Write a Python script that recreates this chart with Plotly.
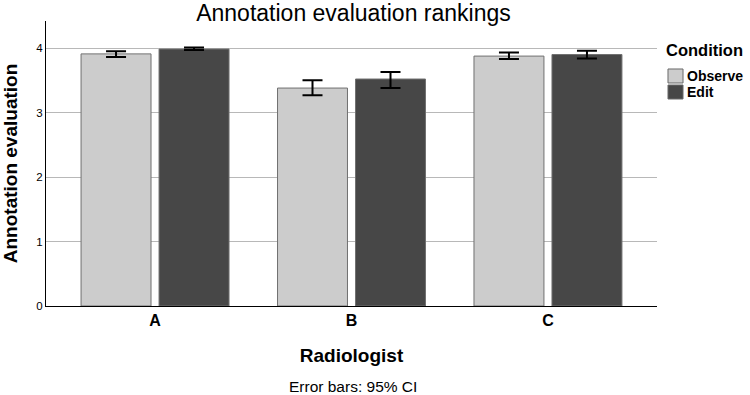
import plotly.graph_objects as go

categories = ["A", "B", "C"]
observe = [3.91, 3.38, 3.876]
observe_lo = [3.86, 3.27, 3.83]
observe_hi = [3.95, 3.50, 3.93]
edit = [3.985, 3.52, 3.90]
edit_lo = [3.97, 3.38, 3.84]
edit_hi = [4.01, 3.63, 3.96]
series_names = ["Observe", "Edit"]
series_colors = ["#cccccc", "#474747"]

def err(v, lo, hi):
    return dict(type="data", symmetric=False,
                array=[h - x for x, h in zip(v, hi)],
                arrayminus=[x - l for x, l in zip(v, lo)],
                color="black", thickness=2, width=10)

fig = go.Figure()
fig.add_trace(go.Bar(name=series_names[0], x=categories, y=observe, showlegend=False,
                     marker=dict(color=series_colors[0], line=dict(color="#707070", width=1)),
                     error_y=err(observe, observe_lo, observe_hi)))
fig.add_trace(go.Bar(name=series_names[1], x=categories, y=edit, showlegend=False,
                     marker=dict(color=series_colors[1], line=dict(color="#707070", width=1)),
                     error_y=err(edit, edit_lo, edit_hi)))

font = "Liberation Sans, Arial, sans-serif"

# manual legend (paper coords)
shapes = []
annotations = [
    dict(text="Error bars: 95% CI", xref="paper", yref="paper",
         x=0.502, y=-0.284, yanchor="middle", xanchor="center",
         showarrow=False, font=dict(size=15.5)),
    dict(text="<b>Condition</b>", xref="paper", yref="paper", x=1.011, y=0.898,
         xanchor="left", yanchor="middle", showarrow=False, font=dict(size=16.5)),
]
sw_y = [(0.7825, 0.8316), (0.7263, 0.7754)]
txt_y = [0.807, 0.751]
for name, col, (y0, y1), ty in zip(series_names, series_colors, sw_y, txt_y):
    shapes.append(dict(type="rect", xref="paper", yref="paper", x0=1.018, x1=1.0426,
                       y0=y0, y1=y1, fillcolor=col, line=dict(color="#6a6a6a", width=1)))
    annotations.append(dict(text="<b>%s</b>" % name, xref="paper", yref="paper",
                            x=1.0455, y=ty, xanchor="left", yanchor="middle",
                            showarrow=False, font=dict(size=14)))

fig.update_layout(
    width=750, height=395,
    margin=dict(l=46, r=93, t=21, b=89, autoexpand=False),
    paper_bgcolor="white", plot_bgcolor="white",
    barmode="group", bargap=0.206, bargroupgap=0.103,
    font=dict(family=font, color="black"),
    showlegend=False,
    title=dict(text="Annotation evaluation rankings", x=0.4713, xanchor="center",
               y=0.9685, yanchor="middle", font=dict(size=23, color="black")),
    xaxis=dict(range=[-0.555, 2.555], showline=True, linecolor="black", linewidth=1,
               ticks="", tickfont=dict(size=16), tickprefix="<b>", ticksuffix="</b>",
               title=dict(text="<b>Radiologist</b>", font=dict(size=19), standoff=20)),
    yaxis=dict(range=[0, 4.42], showline=True, linecolor="black", linewidth=1,
               showgrid=True, gridcolor="#b8b8b8", gridwidth=1, zeroline=False,
               tickvals=[0, 1, 2, 3, 4], ticks="", tickfont=dict(size=11.5),
               tickprefix="<b>", ticksuffix="</b>",
               title=dict(text="<b>Annotation evaluation</b>", font=dict(size=19), standoff=15)),
    shapes=shapes,
    annotations=annotations,
)
fig.write_html("out.html")
